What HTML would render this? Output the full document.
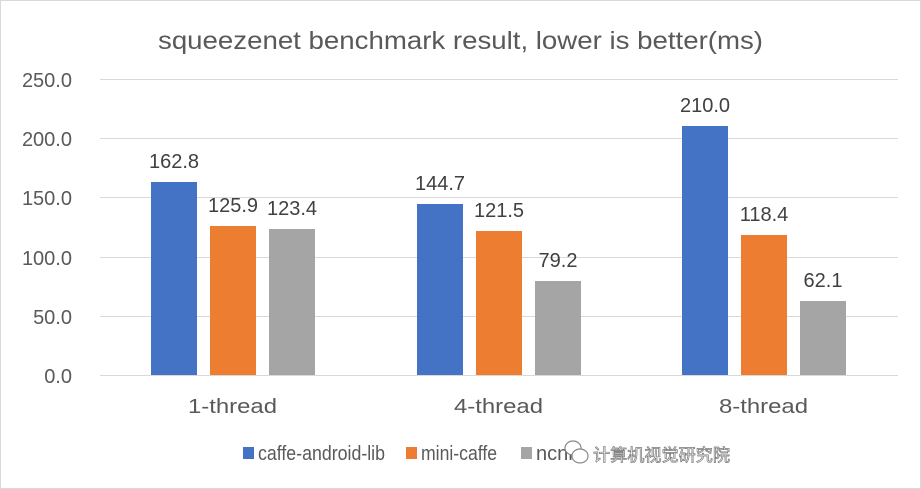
<!DOCTYPE html><html><head><meta charset="utf-8"><style>html,body{margin:0;padding:0;background:#fff}svg{display:block}</style></head><body>
<svg width="921" height="489" xmlns="http://www.w3.org/2000/svg" font-family="Liberation Sans, Noto Sans CJK SC, sans-serif">
<rect x="0.5" y="0.5" width="920" height="488" fill="#fff" stroke="#d9d9d9"/>
<text x="158" y="49" textLength="605" lengthAdjust="spacingAndGlyphs" font-size="25" fill="#595959">squeezenet benchmark result, lower is better(ms)</text>
<g stroke="#d9d9d9" stroke-width="1">
<line x1="100" x2="898" y1="79.5" y2="79.5"/><line x1="100" x2="898" y1="138.5" y2="138.5"/><line x1="100" x2="898" y1="197.5" y2="197.5"/><line x1="100" x2="898" y1="257.5" y2="257.5"/><line x1="100" x2="898" y1="316.5" y2="316.5"/><line x1="100" x2="898" y1="375.5" y2="375.5"/>
</g>
<g font-size="20" fill="#595959" text-anchor="end">
<text x="72" y="87">250.0</text><text x="72" y="146">200.0</text><text x="72" y="205">150.0</text><text x="72" y="265">100.0</text><text x="72" y="324">50.0</text><text x="72" y="383">0.0</text>
</g>
<g fill="#4472c4"><rect x="151" y="182" width="46" height="193"/><rect x="417" y="204" width="46" height="171"/><rect x="682" y="126" width="46" height="249"/></g>
<g fill="#ed7d31"><rect x="210" y="226" width="46" height="149"/><rect x="476" y="231" width="46" height="144"/><rect x="741" y="235" width="46" height="140"/></g>
<g fill="#a5a5a5"><rect x="269" y="229" width="46" height="146"/><rect x="535" y="281" width="46" height="94"/><rect x="800" y="301" width="46" height="74"/></g>
<g font-size="20" fill="#404040" text-anchor="middle">
<text x="174" y="168">162.8</text><text x="233" y="212">125.9</text><text x="292" y="215">123.4</text>
<text x="440" y="190">144.7</text><text x="499" y="217">121.5</text><text x="558" y="267">79.2</text>
<text x="705" y="112">210.0</text><text x="764" y="221">118.4</text><text x="823" y="287">62.1</text>
</g>
<g font-size="20" fill="#595959">
<text x="188" y="413" textLength="89" lengthAdjust="spacingAndGlyphs">1-thread</text><text x="454" y="413" textLength="89" lengthAdjust="spacingAndGlyphs">4-thread</text><text x="719" y="413" textLength="89" lengthAdjust="spacingAndGlyphs">8-thread</text>
</g>
<g font-size="20" fill="#595959">
<rect x="243" y="447" width="11" height="12" fill="#4472c4"/><text x="258" y="460" textLength="127" lengthAdjust="spacingAndGlyphs">caffe-android-lib</text>
<rect x="406" y="447" width="11" height="12" fill="#ed7d31"/><text x="421" y="460" textLength="76" lengthAdjust="spacingAndGlyphs">mini-caffe</text>
<rect x="521" y="447" width="11" height="12" fill="#a5a5a5"/><text x="536" y="460">ncnn</text>
</g>
<g fill="#fff" stroke="#888" stroke-width="1.2"><ellipse cx="573" cy="448" rx="8" ry="7"/><ellipse cx="580" cy="456" rx="8" ry="7"/></g>
<text x="593" y="461" font-size="17" textLength="137" lengthAdjust="spacingAndGlyphs" fill="#fff" stroke="#777" stroke-width="0.7">计算机视觉研究院</text>
</svg>
</body></html>
